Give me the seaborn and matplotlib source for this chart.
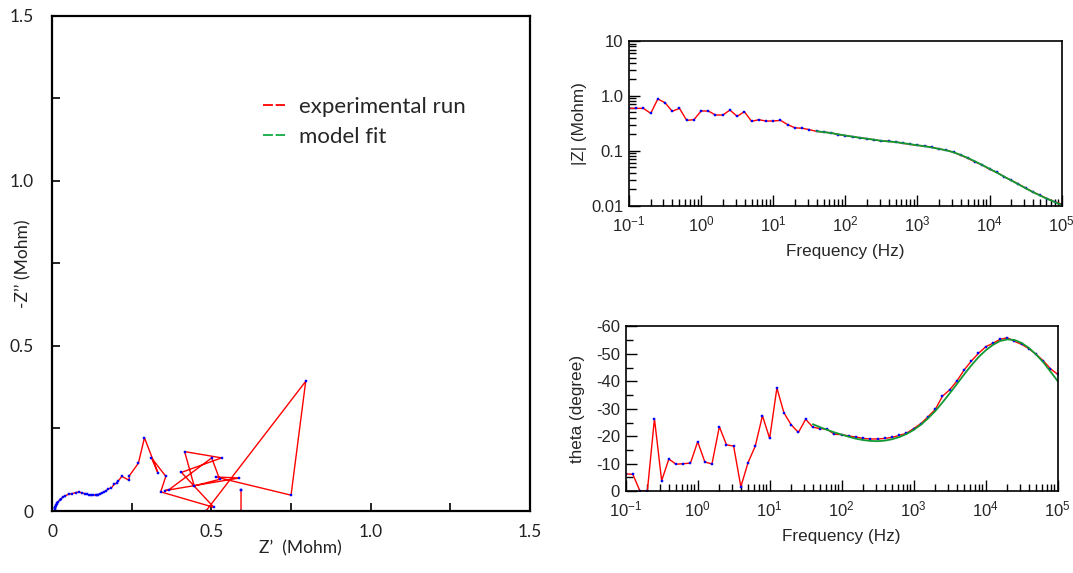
import numpy as np
import matplotlib
matplotlib.use("Agg")
import matplotlib.pyplot as plt
from matplotlib.lines import Line2D
from matplotlib.ticker import FixedLocator, FixedFormatter, LogLocator, MultipleLocator, NullFormatter
import seaborn as sns

# frequencies (Hz), 10 points per decade
freq = [0.1, 0.126, 0.158, 0.2, 0.251, 0.316, 0.398, 0.501, 0.631, 0.794,
        1.0, 1.26, 1.58, 2.0, 2.51, 3.16, 3.98, 5.01, 6.31, 7.94,
        10, 12.6, 15.8, 20, 25.1, 31.6, 39.8, 50.1, 63.1, 79.4,
        100, 126, 158, 200, 251, 316, 398, 501, 631, 794,
        1000, 1260, 1580, 2000, 2510, 3160, 3980, 5010, 6310, 7940,
        10000, 12600, 15800, 20000, 25100, 31600, 39800, 50100, 63100, 79400,
        100000]

# experimental |Z| (Mohm)
z_mod = [0.594, 0.594, 0.594, 0.482, 0.879, 0.752, 0.524, 0.594, 0.359, 0.369,
         0.531, 0.531, 0.449, 0.449, 0.553, 0.425, 0.516, 0.344, 0.369, 0.349,
         0.349, 0.359, 0.301, 0.262, 0.258, 0.243, 0.226, 0.220, 0.212, 0.198,
         0.189, 0.181, 0.173, 0.166, 0.159, 0.151, 0.149, 0.145, 0.137, 0.131,
         0.126, 0.122, 0.116, 0.108, 0.103, 0.094, 0.083, 0.073, 0.0625, 0.055,
         0.046, 0.0406, 0.0338, 0.029, 0.0248, 0.021, 0.0178, 0.0155, 0.0134, 0.0118,
         0.0107]

# experimental phase (degree)
theta = [-6.3, -6.1, 0, 0, -26.4, -3.8, -11.7, -9.8, -10.0, -10.2,
         -18.0, -10.6, -9.9, -23.5, -16.9, -16.4, -1.6, -10.4, -16.4, -27.5,
         -19.2, -37.6, -28.5, -24.1, -21.4, -26.2, -23.3, -22.8, -22.5, -20.7,
         -20.6, -20.1, -19.7, -19.2, -19.0, -19.0, -19.2, -19.6, -20.3, -21.1,
         -22.8, -24.6, -27.1, -29.8, -34.6, -36.9, -40.1, -44.1, -47.4, -50.2,
         -52.6, -53.9, -55.3, -55.9, -54.6, -53.5, -51.9, -49.9, -47.5, -44.6,
         -42.6]

# Nyquist: Z' and -Z'' (Mohm), same order as freq
z_re = [0.594, 0.593, 0.593, 0.483, 0.796, 0.750, 0.514, 0.588, 0.355, 0.366,
        0.501, 0.526, 0.446, 0.416, 0.532, 0.406, 0.508, 0.341, 0.357, 0.312,
        0.333, 0.290, 0.271, 0.242, 0.242, 0.219, 0.207, 0.203, 0.195, 0.186,
        0.177, 0.170, 0.163, 0.157, 0.150, 0.143, 0.141, 0.137, 0.129, 0.122,
        0.116, 0.111, 0.103, 0.094, 0.085, 0.075, 0.064, 0.052, 0.042, 0.035,
        0.028, 0.024, 0.019, 0.016, 0.014, 0.0125, 0.011, 0.010, 0.009, 0.0084,
        0.0079]
z_im = [0.063, 0.064, 0.0, 0.0, 0.393, 0.048, 0.103, 0.100, 0.062, 0.064,
        0.161, 0.096, 0.076, 0.180, 0.161, 0.117, 0.011, 0.058, 0.105, 0.161,
        0.114, 0.222, 0.145, 0.106, 0.093, 0.105, 0.090, 0.085, 0.081, 0.070,
        0.067, 0.062, 0.058, 0.055, 0.052, 0.049, 0.049, 0.049, 0.048, 0.047,
        0.049, 0.051, 0.053, 0.054, 0.058, 0.056, 0.053, 0.051, 0.046, 0.042,
        0.037, 0.033, 0.028, 0.024, 0.020, 0.017, 0.014, 0.012, 0.010, 0.0083,
        0.0072]

# model fit (40 Hz .. 100 kHz)
fit_freq = freq[26:]
fit_mod = [0.228, 0.219, 0.211, 0.200, 0.190, 0.181, 0.173, 0.166, 0.159, 0.152,
           0.148, 0.144, 0.138, 0.132, 0.126, 0.121, 0.115, 0.108, 0.102, 0.094,
           0.084, 0.074, 0.064, 0.055, 0.047, 0.040, 0.034, 0.0288, 0.0245, 0.0208,
           0.0177, 0.0153, 0.0133, 0.0117, 0.0103]
fit_theta = [-24.4, -23.3, -22.3, -21.4, -20.6, -19.8, -19.1, -18.6, -18.3, -18.2,
             -18.4, -18.9, -19.7, -20.8, -22.3, -24.2, -26.5, -29.2, -32.3, -35.6,
             -39.0, -42.5, -45.8, -48.8, -51.3, -53.3, -54.7, -55.3, -55.1, -54.0,
             -52.2, -49.8, -47.0, -43.6, -40.1]

sns.set_style("ticks")
plt.rcParams['font.family'] = ['Liberation Sans', 'DejaVu Sans']
plt.rcParams['axes.unicode_minus'] = False
left_font = ["Lato", "DejaVu Sans"]

fig = plt.figure(figsize=(10.73, 5.73), dpi=100)
ax1 = fig.add_axes([0.0485, 0.1082, 0.4455, 0.8639])
ax2 = fig.add_axes([0.5862, 0.6410, 0.4033, 0.2874])
ax3 = fig.add_axes([0.5831, 0.1429, 0.4026, 0.2873])

exp_kws = dict(color="red", lw=1, marker="s", ms=1.9, mfc="blue", mec="blue", mew=0.3,
               sort=False, estimator=None)
fit_kws = dict(color="#119933", lw=1.3, sort=False, estimator=None)

# Nyquist plot
sns.lineplot(x=z_re, y=z_im, ax=ax1, **exp_kws)
ax1.set_xlim(0, 1.5)
ax1.set_ylim(0, 1.5)
ax1.xaxis.set_major_locator(FixedLocator([0, 0.5, 1.0, 1.5]))
ax1.xaxis.set_major_formatter(FixedFormatter(["0", "0.5", "1.0", "1.5"]))
ax1.yaxis.set_major_locator(FixedLocator([0, 0.5, 1.0, 1.5]))
ax1.yaxis.set_major_formatter(FixedFormatter(["0", "0.5", "1.0", "1.5"]))
ax1.xaxis.set_minor_locator(FixedLocator([0.25, 0.75, 1.25]))
ax1.yaxis.set_minor_locator(FixedLocator([0.25, 0.75, 1.25]))
ax1.tick_params(which="both", direction="in", width=1.2, color="black", length=6)
ax1.tick_params(axis="y", which="major", pad=13)
ax1.tick_params(axis="x", which="major", pad=9)
for lab in ax1.get_xticklabels() + ax1.get_yticklabels():
    lab.set_family(left_font)
    lab.set_fontsize(12.5)
    lab.set_color("#222222")
for s in ax1.spines.values():
    s.set_linewidth(1.6)
    s.set_color("black")
ax1.set_xlabel("Z\u2019  (Mohm)", family=left_font, fontsize=12.5, color="#222222")
ax1.set_ylabel("-Z\u2019\u2019 (Mohm)", family=left_font, fontsize=12.5, color="#222222")
ax1.xaxis.set_label_coords(0.519, -0.06)
ax1.yaxis.set_label_coords(-0.044, 0.5)

handles = [Line2D([], [], color="red", lw=1.3, ls=(0, (5.5, 1.5))),
           Line2D([], [], color="#11aa44", lw=1.3, ls=(0, (5.5, 1.5)))]
leg = ax1.legend(handles, ["experimental run", "model fit"], loc="upper left",
                 bbox_to_anchor=(0.40, 0.877), frameon=False, handlelength=1.0,
                 handletextpad=0.6, labelspacing=0.45,
                 prop={"family": left_font, "size": 16})

# |Z| vs frequency
sns.lineplot(x=freq, y=z_mod, ax=ax2, **exp_kws)
sns.lineplot(x=fit_freq, y=fit_mod, ax=ax2, **fit_kws)
ax2.set_xscale("log")
ax2.set_yscale("log")
ax2.set_xlim(0.1, 1e5)
ax2.set_ylim(0.01, 10)
ax2.yaxis.set_major_locator(FixedLocator([0.01, 0.1, 1, 10]))
ax2.yaxis.set_major_formatter(FixedFormatter(["0.01", "0.1", "1.0", "10"]))
ax2.yaxis.set_minor_locator(LogLocator(base=10, subs=np.arange(2, 10), numticks=20))
ax2.yaxis.set_minor_formatter(NullFormatter())
ax2.set_xlabel("Frequency (Hz)", fontsize=12.3)
ax2.set_ylabel("|Z| (Mohm)", fontsize=12.3)
ax2.xaxis.set_label_coords(0.5, -0.235)
ax2.yaxis.set_label_coords(-0.097, 0.5)

# phase vs frequency
sns.lineplot(x=freq, y=theta, ax=ax3, **exp_kws)
sns.lineplot(x=fit_freq, y=fit_theta, ax=ax3, **fit_kws)
ax3.set_xscale("log")
ax3.set_xlim(0.1, 1e5)
ax3.set_ylim(0, -60)
ax3.yaxis.set_major_locator(MultipleLocator(10))
ax3.yaxis.set_minor_locator(MultipleLocator(5))
ax3.set_xlabel("Frequency (Hz)", fontsize=12.3)
ax3.set_ylabel("theta (degree)", fontsize=12.3)
ax3.xaxis.set_label_coords(0.5, -0.232)
ax3.yaxis.set_label_coords(-0.094, 0.5)

for ax in [ax2, ax3]:
    ax.xaxis.set_major_locator(LogLocator(base=10, numticks=10))
    ax.xaxis.set_minor_locator(LogLocator(base=10, subs=np.arange(2, 10), numticks=20))
    ax.xaxis.set_minor_formatter(NullFormatter())
    ax.tick_params(which="both", direction="in", color="black", labelsize=12, width=1)
    ax.tick_params(which="major", length=8)
    ax.tick_params(which="minor", length=5)
    ax.tick_params(axis="x", which="major", pad=6)
    ax.tick_params(axis="y", which="major", pad=4)
    for s in ax.spines.values():
        s.set_linewidth(1.2)
        s.set_color("black")

fig.savefig("out.png", dpi=100)
